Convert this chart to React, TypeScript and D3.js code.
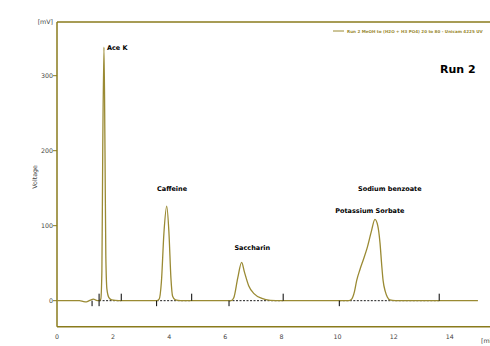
import React from "react";
import { scaleLinear, line, curveMonotoneX } from "d3";

// chromatogram trace: [time (min), signal (mV)]
const trace: [number, number][] = [
  [0.0, 0], [0.8, 0], [0.95, -1.2], [1.05, -1.5], [1.15, 0], [1.3, 2],
  [1.4, 0.5], [1.5, 0], [1.56, 2], [1.6, 40], [1.63, 200], [1.674, 338],
  [1.71, 200], [1.74, 60], [1.78, 15], [1.85, 4], [1.95, 1], [2.2, 0],
  [3.55, 0], [3.64, 2], [3.72, 25], [3.81, 90], [3.91, 126], [3.99, 90],
  [4.06, 30], [4.12, 6], [4.22, 1], [4.4, 0],
  [6.2, 0], [6.3, 4], [6.44, 30], [6.58, 51], [6.68, 38], [6.83, 20],
  [7.03, 9], [7.3, 3], [7.6, 0.5], [8.0, 0],
  [10.4, 0], [10.5, 2], [10.6, 12], [10.68, 27], [10.8, 42], [10.91, 54],
  [11.05, 70], [11.2, 92], [11.33, 108.5], [11.43, 100], [11.51, 77],
  [11.57, 48], [11.62, 27], [11.7, 12], [11.77, 5], [11.86, 1], [12.05, 0],
  [15.0, 0],
];

// integration marks (min)
const peakStarts = [1.25, 1.5, 3.55, 6.13, 10.06];
const peakEnds = [1.5, 2.29, 4.8, 8.06, 13.62];
const baselines: [number, number][] = [[1.5, 2.29], [3.55, 4.8], [6.13, 8.06], [10.06, 13.62]];

// peak names with their label anchor [time, mV]
const peakNames = ["Ace K", "Caffeine", "Saccharin", "Sodium benzoate", "Potassium Sorbate"];
const labelTimes = [1.78, 4.1, 6.96, 11.86, 11.15];
const labelVolts = [334, 146, 67, 146, 117];
const labelAnchor = ["start", "middle", "middle", "middle", "middle"];

const xTicks = [0, 2, 4, 6, 8, 10, 12, 14];
const yTicks = [0, 100, 200, 300];

const W = 490;
const H = 346;
const axisColor = "#8a7b1c";
const traceColor = "#9a8a33";
const font = "DejaVu Sans, Verdana, sans-serif";

export default function App() {
  const x = scaleLinear().domain([0, 15.43]).range([57, 490]);
  const y = scaleLinear().domain([-34.7, 371.6]).range([326.7, 22]);

  const path = line<[number, number]>()
    .x((d) => x(d[0]))
    .y((d) => y(d[1]))
    .curve(curveMonotoneX);

  const y0 = y(0);

  return (
    <svg
      width={W}
      height={H}
      style={{ position: "absolute", left: 0, top: 0, background: "#fff" }}
      fontFamily={font}
    >
      {/* frame */}
      <line x1={x(0)} x2={W} y1={y.range()[1]} y2={y.range()[1]} stroke={axisColor} strokeWidth={1.5} />
      <line x1={x(0)} x2={W} y1={y.range()[0]} y2={y.range()[0]} stroke={axisColor} strokeWidth={1.5} />
      <line x1={x(0)} x2={x(0)} y1={y.range()[1]} y2={y.range()[0]} stroke={axisColor} strokeWidth={1.5} />

      {/* y axis */}
      {yTicks.map((t) => (
        <g key={t}>
          <line x1={x(0) - 4} x2={x(0)} y1={y(t)} y2={y(t)} stroke={axisColor} />
          <text x={x(0) - 4} y={y(t) + 2} fontSize={6.3} fill="#444" textAnchor="end">
            {t}
          </text>
        </g>
      ))}
      <text x={53} y={24} fontSize={6.3} fill="#444" textAnchor="end">[mV]</text>
      <text
        transform={`translate(37,${y(165)}) rotate(-90)`}
        fontSize={6.3}
        fill="#444"
        textAnchor="middle"
      >
        Voltage
      </text>

      {/* x axis */}
      {xTicks.map((t) => (
        <text key={t} x={x(t)} y={339} fontSize={6.3} fill="#444" textAnchor="middle">
          {t}
        </text>
      ))}
      <text x={481} y={343} fontSize={6.3} fill="#444">[min]</text>

      {/* integration baselines */}
      {baselines.map(([a, b], i) => (
        <line key={i} x1={x(a)} x2={x(b)} y1={y0} y2={y0} stroke="#000" strokeWidth={0.9} strokeDasharray="2,1.5" />
      ))}

      {/* trace */}
      <path d={path(trace) || ""} fill="none" stroke={traceColor} strokeWidth={1.3} />

      {/* integration marks */}
      {peakStarts.map((t, i) => (
        <line key={"s" + i} x1={x(t)} x2={x(t)} y1={y0} y2={y0 + 5.5} stroke="#000" strokeWidth={1} />
      ))}
      {peakEnds.map((t, i) => (
        <line key={"e" + i} x1={x(t)} x2={x(t)} y1={y0 - 7} y2={y0} stroke="#000" strokeWidth={1} />
      ))}

      {/* peak labels */}
      {peakNames.map((n, i) => (
        <text
          key={n}
          x={x(labelTimes[i])}
          y={y(labelVolts[i])}
          fontSize={6.5}
          fontWeight="bold"
          fill="#000"
          textAnchor={labelAnchor[i] as any}
        >
          {n}
        </text>
      ))}

      {/* legend */}
      <line x1={333} x2={344} y1={31} y2={31} stroke={traceColor} strokeWidth={1} />
      <text x={347} y={32.5} fontSize={4.1} fontWeight="bold" fill={traceColor}>
        Run 2 MeOH to (H2O + H3 PO4)  20 to 80  - Unicam 4225 UV
      </text>
      <text x={440} y={73} fontSize={11} fontWeight="bold" fill="#000">Run 2</text>
    </svg>
  );
}
